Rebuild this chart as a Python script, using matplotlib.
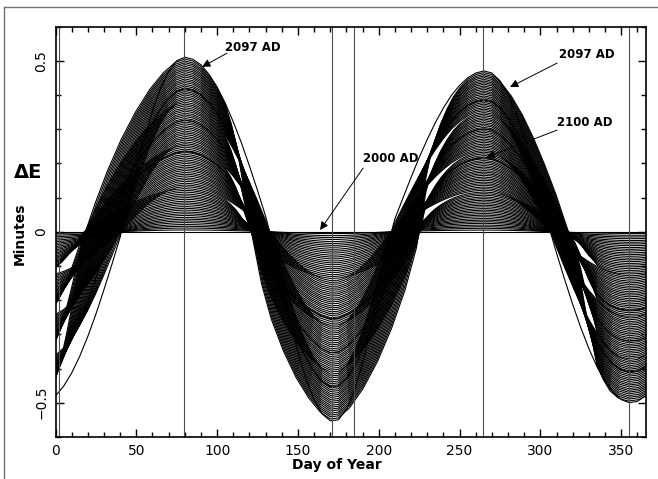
import numpy as np
import matplotlib
matplotlib.use('Agg')
import matplotlib.pyplot as plt
from matplotlib.lines import Line2D
from matplotlib.ticker import MultipleLocator

# day of year grid (every 5 days, a little past both ends)
day = np.arange(-10, 376, 5)

# outer curve (2097)
outer = [-0.500, -0.496,
         -0.480, -0.452, -0.413, -0.364, -0.306, -0.241, -0.169, -0.094, -0.016,
         0.082, 0.181, 0.272, 0.353, 0.420, 0.469, 0.500, 0.510,
         0.504, 0.488, 0.460, 0.423, 0.376, 0.321, 0.260, 0.192, 0.120, 0.045,
         -0.045, -0.155, -0.258, -0.351, -0.430, -0.491, -0.533, -0.553,
         -0.550, -0.520, -0.463, -0.384, -0.285, -0.171, -0.049,
         0.038, 0.099, 0.159, 0.217, 0.270, 0.319, 0.362, 0.399, 0.428, 0.450, 0.464, 0.470,
         0.464, 0.441, 0.401, 0.345, 0.276, 0.197, 0.110, 0.018,
         -0.063, -0.140, -0.213, -0.281, -0.342, -0.395, -0.438, -0.470, -0.491, -0.500,
         -0.496, -0.480, -0.452, -0.413]

# days by which the curve moves at full shift (+ earlier, - later)
lead = [0.0, 1.9,
        4.3, 6.7, 9.1, 11.5, 13.9, 16.3, 18.7, 21.1, 23.5,
        21.5, 18.5, 15.0, 11.0, 7.0, 3.5, 1.0, 0.0,
        0.0, 0.0, 0.0, 0.0, 0.0, 1.5, 3.5, 6.0, 8.5, 11.0,
        12.5, 13.0, 12.0, 9.5, 6.5, 3.5, 1.2, 0.0,
        0.0, -2.0, -5.5, -9.5, -13.5, -17.0, -19.0,
        -17.0, -13.0, -9.5, -7.0, -5.0, -3.5, -2.3, -1.3, -0.6, -0.2, 0.0, 0.0,
        0.0, -0.5, -2.0, -4.0, -6.0, -8.0, -10.0, -11.5,
        -11.5, -10.0, -7.5, -5.0, -3.0, 0.0, 1.0, 2.0, 2.0, 1.0,
        -1.0, -2.0, -2.0, -2.0]

years = list(range(2000, 2101))

# size of each year's curve relative to the outer one
scale = [0.000, 0.010, 0.021, 0.031, 0.041, 0.052, 0.062, 0.072, 0.082, 0.093,
         0.103, 0.113, 0.124, 0.134, 0.144, 0.155, 0.165, 0.175, 0.186, 0.196,
         0.206, 0.216, 0.227, 0.237, 0.247, 0.258, 0.268, 0.278, 0.289, 0.299,
         0.309, 0.320, 0.330, 0.340, 0.351, 0.361, 0.371, 0.381, 0.392, 0.402,
         0.412, 0.423, 0.433, 0.443, 0.454, 0.464, 0.474, 0.485, 0.495, 0.505,
         0.515, 0.526, 0.536, 0.546, 0.557, 0.567, 0.577, 0.588, 0.598, 0.608,
         0.619, 0.629, 0.639, 0.649, 0.660, 0.670, 0.680, 0.691, 0.701, 0.711,
         0.722, 0.732, 0.742, 0.753, 0.763, 0.773, 0.784, 0.794, 0.804, 0.814,
         0.825, 0.835, 0.845, 0.856, 0.866, 0.876, 0.887, 0.897, 0.907, 0.918,
         0.928, 0.938, 0.948, 0.959, 0.969, 0.979, 0.990, 1.000,
         0.820, 0.640, 0.460]

# fraction of the lead each year's curve takes
shift = [0.000, 0.041, 0.082, 0.124, 0.165, 0.206, 0.247, 0.289, 0.330, 0.371,
         0.412, 0.454, 0.495, 0.536, 0.577, 0.619, 0.660, 0.701, 0.742, 0.784,
         0.825, 0.866, 0.907, 0.948, 0.990, 0.031, 0.072, 0.113, 0.155, 0.196,
         0.237, 0.278, 0.320, 0.361, 0.402, 0.443, 0.485, 0.526, 0.567, 0.608,
         0.649, 0.691, 0.732, 0.773, 0.814, 0.856, 0.897, 0.938, 0.979, 0.021,
         0.062, 0.103, 0.144, 0.186, 0.227, 0.268, 0.309, 0.351, 0.392, 0.433,
         0.474, 0.515, 0.557, 0.598, 0.639, 0.680, 0.722, 0.763, 0.804, 0.845,
         0.887, 0.928, 0.969, 0.010, 0.052, 0.093, 0.134, 0.175, 0.216, 0.258,
         0.299, 0.340, 0.381, 0.423, 0.464, 0.505, 0.546, 0.588, 0.629, 0.670,
         0.711, 0.753, 0.794, 0.835, 0.876, 0.918, 0.959, 0.000,
         0.280, 0.560, 0.840]

# perihelion, equinoxes, solstices, aphelion
events = [2.2, 79.2, 171.2, 184.7, 264.4, 354.6]

fig = plt.figure(figsize=(6.58, 4.79), dpi=100)
ax = fig.add_axes([55.5 / 658, 1 - 436.9 / 479, 590 / 658, 410.4 / 479])

p = np.array(outer)
h = np.array(lead)
for yr, s, w in zip(years, scale, shift):
    ax.plot(day - w * h, s * p, color='k', lw=0.8)

for d in events:
    ax.axvline(d, color='0.3', lw=0.8)

ax.set_xlim(0, 365)
ax.set_ylim(-0.6, 0.6)
ax.xaxis.set_major_locator(MultipleLocator(50))
ax.xaxis.set_minor_locator(MultipleLocator(10))
ax.set_yticks([-0.5, 0, 0.5])
ax.set_yticklabels(['\u22120.5', '0', '0.5'], rotation=90, va='center')
ax.yaxis.set_minor_locator(MultipleLocator(0.1))
ax.tick_params(which='both', direction='in', top=True, right=True, width=1, labelsize=10)
ax.tick_params(which='major', length=6, pad=5)
ax.tick_params(which='minor', length=3.5)
for sp in ax.spines.values():
    sp.set_linewidth(1.2)

fig.text(20 / 658, 1 - 234 / 479, 'Minutes', rotation=90, ha='center', va='center',
         fontsize=10, fontweight='bold')
fig.text(28 / 658, 1 - 173 / 479, '\u0394E', ha='center', va='center',
         fontsize=14, fontweight='bold')
fig.text(337 / 658, 1 - 465 / 479, 'Day of Year', ha='center', va='center',
         fontsize=10, fontweight='bold')

arw = dict(arrowstyle='-|>', color='k', lw=0.7, mutation_scale=12, shrinkA=0, shrinkB=0)
notes = [('2097 AD', (122.2, 0.540), (106.1, 0.522), (90.7, 0.482)),
         ('2000 AD', (207.6, 0.213), (190.3, 0.186), (163.7, 0.005)),
         ('2097 AD', (328.9, 0.517), (310.3, 0.493), (281.2, 0.423)),
         ('2100 AD', (327.7, 0.318), (310.3, 0.297), (266.7, 0.218))]
for txt, pos, tail, tip in notes:
    ax.text(pos[0], pos[1], txt, ha='center', va='center', fontsize=8.5, fontweight='bold')
    ax.annotate('', xy=tip, xytext=tail, arrowprops=arw)

# grey frame lines at top and left of the page
fig.add_artist(Line2D([4 / 658, 1], [1 - 7 / 479, 1 - 7 / 479], transform=fig.transFigure,
                      color='0.45', lw=1))
fig.add_artist(Line2D([4 / 658, 4 / 658], [0, 1 - 7 / 479], transform=fig.transFigure,
                      color='0.45', lw=1))

fig.savefig('out.png', dpi=100)
